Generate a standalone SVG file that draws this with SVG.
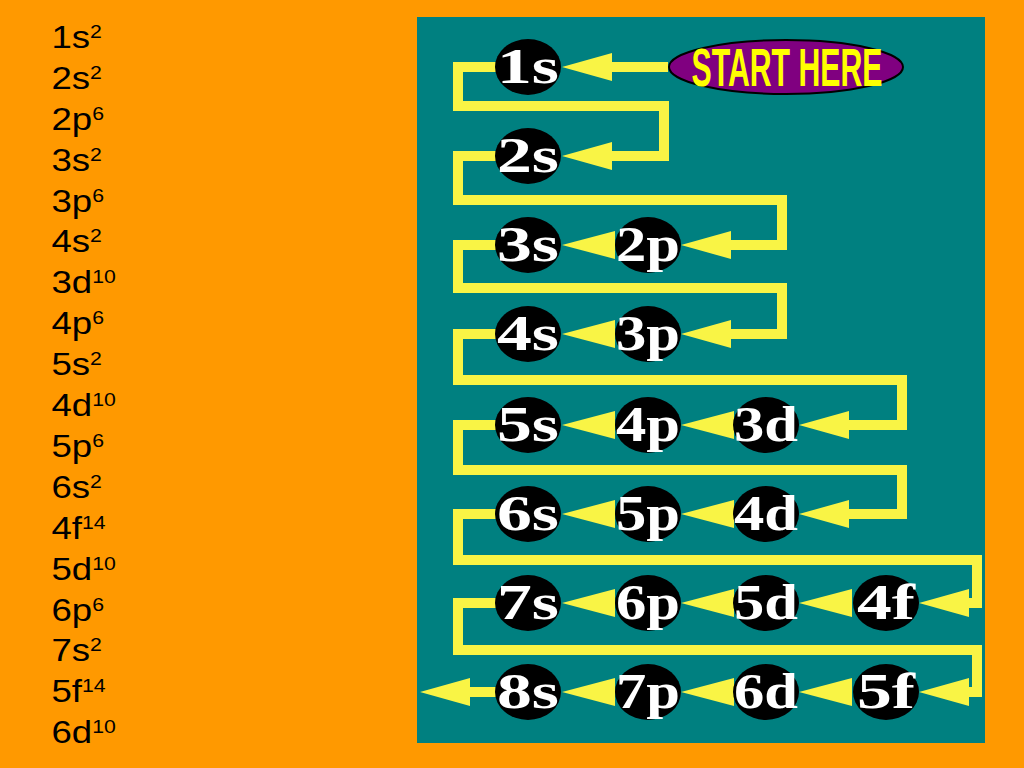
<svg xmlns="http://www.w3.org/2000/svg" xmlns:xlink="http://www.w3.org/1999/xlink" width="1024" height="768" viewBox="0 0 1024 768">
<style>
.cfg{font-family:"Liberation Sans",Arial,sans-serif;font-size:31px;fill:#000}
.sup{font-size:18px}
.wire{fill:none;stroke:#F9F445;stroke-width:10;stroke-linejoin:miter;stroke-linecap:butt}
.ah{fill:#F9F445}
.ball{fill:#000}
.lbl{font-family:"Liberation Serif","Times New Roman",serif;font-weight:bold;font-size:50px;fill:#fff;text-anchor:middle}
.start{fill:#800080;stroke:#000;stroke-width:2}
.startlbl{font-family:"Liberation Sans Narrow","Liberation Sans",Arial,sans-serif;font-weight:bold;font-size:54px;fill:#FFFF00;text-anchor:middle}
</style>
<defs>
<path id="ah" class="ah" d="M0,0 L50,-14 L50,14 Z"/>
<path id="ah2" class="ah" d="M0,0 L53,-14 L53,14 Z"/>
</defs>
<rect x="0" y="0" width="1024" height="768" fill="#FF9900"/>
<rect x="417" y="17" width="568" height="726" fill="#008080"/>

<g id="config-list" transform="translate(51.5 0) scale(1.18 1)">
<text class="cfg" x="0" y="48">1s<tspan class="sup" dy="-10">2</tspan></text>
<text class="cfg" x="0" y="89">2s<tspan class="sup" dy="-10">2</tspan></text>
<text class="cfg" x="0" y="130">2p<tspan class="sup" dy="-10">6</tspan></text>
<text class="cfg" x="0" y="171">3s<tspan class="sup" dy="-10">2</tspan></text>
<text class="cfg" x="0" y="212">3p<tspan class="sup" dy="-10">6</tspan></text>
<text class="cfg" x="0" y="252">4s<tspan class="sup" dy="-10">2</tspan></text>
<text class="cfg" x="0" y="293">3d<tspan class="sup" dy="-10">10</tspan></text>
<text class="cfg" x="0" y="334">4p<tspan class="sup" dy="-10">6</tspan></text>
<text class="cfg" x="0" y="375">5s<tspan class="sup" dy="-10">2</tspan></text>
<text class="cfg" x="0" y="416">4d<tspan class="sup" dy="-10">10</tspan></text>
<text class="cfg" x="0" y="457">5p<tspan class="sup" dy="-10">6</tspan></text>
<text class="cfg" x="0" y="498">6s<tspan class="sup" dy="-10">2</tspan></text>
<text class="cfg" x="0" y="539">4f<tspan class="sup" dy="-10">14</tspan></text>
<text class="cfg" x="0" y="580">5d<tspan class="sup" dy="-10">10</tspan></text>
<text class="cfg" x="0" y="621">6p<tspan class="sup" dy="-10">6</tspan></text>
<text class="cfg" x="0" y="661">7s<tspan class="sup" dy="-10">2</tspan></text>
<text class="cfg" x="0" y="702">5f<tspan class="sup" dy="-10">14</tspan></text>
<text class="cfg" x="0" y="743">6d<tspan class="sup" dy="-10">10</tspan></text>
</g>

<g id="connectors">
<path class="wire" d="M668,67 H608"/>
<path class="wire" d="M496,67 H458 V106 H664 V156 H608"/>
<path class="wire" d="M496,156 H458 V200 H782 V245 H727"/>
<path class="wire" d="M496,245 H458 V288 H782 V334 H727"/>
<path class="wire" d="M496,334 H458 V380 H902 V425 H845"/>
<path class="wire" d="M496,425 H458 V470 H902 V514 H845"/>
<path class="wire" d="M496,514 H458 V560 H977 V603 H964"/>
<path class="wire" d="M496,603 H458 V650 H977 V692 H964"/>
<path class="wire" d="M496,692 H464"/>
<use xlink:href="#ah" href="#ah" transform="translate(562 67)"/>
<use xlink:href="#ah" href="#ah" transform="translate(562 156)"/>
<use xlink:href="#ah" href="#ah" transform="translate(681 245)"/>
<use xlink:href="#ah2" href="#ah2" transform="translate(562 245)"/>
<use xlink:href="#ah" href="#ah" transform="translate(681 334)"/>
<use xlink:href="#ah2" href="#ah2" transform="translate(562 334)"/>
<use xlink:href="#ah" href="#ah" transform="translate(799 425)"/>
<use xlink:href="#ah2" href="#ah2" transform="translate(681 425)"/>
<use xlink:href="#ah2" href="#ah2" transform="translate(562 425)"/>
<use xlink:href="#ah" href="#ah" transform="translate(799 514)"/>
<use xlink:href="#ah2" href="#ah2" transform="translate(681 514)"/>
<use xlink:href="#ah2" href="#ah2" transform="translate(562 514)"/>
<use xlink:href="#ah" href="#ah" transform="translate(919 603)"/>
<use xlink:href="#ah2" href="#ah2" transform="translate(799 603)"/>
<use xlink:href="#ah2" href="#ah2" transform="translate(681 603)"/>
<use xlink:href="#ah2" href="#ah2" transform="translate(562 603)"/>
<use xlink:href="#ah" href="#ah" transform="translate(919 692)"/>
<use xlink:href="#ah2" href="#ah2" transform="translate(799 692)"/>
<use xlink:href="#ah2" href="#ah2" transform="translate(681 692)"/>
<use xlink:href="#ah2" href="#ah2" transform="translate(562 692)"/>
<use xlink:href="#ah" href="#ah" transform="translate(420 692)"/>
</g>

<g id="node-start">
<ellipse class="start" cx="786" cy="67" rx="117" ry="27"/>
<text class="startlbl" transform="translate(787 86) scale(0.56 1)" x="0" y="0">START HERE</text>
</g>

<g id="node-1s"><ellipse class="ball" cx="528" cy="67" rx="33" ry="28"/><text class="lbl" x="528" y="83" textLength="62" lengthAdjust="spacingAndGlyphs">1s</text></g>
<g id="node-2s"><ellipse class="ball" cx="528" cy="156" rx="33" ry="28"/><text class="lbl" x="528" y="172" textLength="62" lengthAdjust="spacingAndGlyphs">2s</text></g>
<g id="node-3s"><ellipse class="ball" cx="528" cy="245" rx="33" ry="28"/><text class="lbl" x="528" y="261" textLength="62" lengthAdjust="spacingAndGlyphs">3s</text></g>
<g id="node-2p"><ellipse class="ball" cx="648" cy="245" rx="33" ry="28"/><text class="lbl" x="648" y="261" textLength="64" lengthAdjust="spacingAndGlyphs">2p</text></g>
<g id="node-4s"><ellipse class="ball" cx="528" cy="334" rx="33" ry="28"/><text class="lbl" x="528" y="350" textLength="62" lengthAdjust="spacingAndGlyphs">4s</text></g>
<g id="node-3p"><ellipse class="ball" cx="648" cy="334" rx="33" ry="28"/><text class="lbl" x="648" y="350" textLength="64" lengthAdjust="spacingAndGlyphs">3p</text></g>
<g id="node-5s"><ellipse class="ball" cx="528" cy="425" rx="33" ry="28"/><text class="lbl" x="528" y="441" textLength="62" lengthAdjust="spacingAndGlyphs">5s</text></g>
<g id="node-4p"><ellipse class="ball" cx="648" cy="425" rx="33" ry="28"/><text class="lbl" x="648" y="441" textLength="64" lengthAdjust="spacingAndGlyphs">4p</text></g>
<g id="node-3d"><ellipse class="ball" cx="766" cy="425" rx="33" ry="28"/><text class="lbl" x="766" y="441" textLength="64" lengthAdjust="spacingAndGlyphs">3d</text></g>
<g id="node-6s"><ellipse class="ball" cx="528" cy="514" rx="33" ry="28"/><text class="lbl" x="528" y="530" textLength="62" lengthAdjust="spacingAndGlyphs">6s</text></g>
<g id="node-5p"><ellipse class="ball" cx="648" cy="514" rx="33" ry="28"/><text class="lbl" x="648" y="530" textLength="64" lengthAdjust="spacingAndGlyphs">5p</text></g>
<g id="node-4d"><ellipse class="ball" cx="766" cy="514" rx="33" ry="28"/><text class="lbl" x="766" y="530" textLength="64" lengthAdjust="spacingAndGlyphs">4d</text></g>
<g id="node-7s"><ellipse class="ball" cx="528" cy="603" rx="33" ry="28"/><text class="lbl" x="528" y="619" textLength="62" lengthAdjust="spacingAndGlyphs">7s</text></g>
<g id="node-6p"><ellipse class="ball" cx="648" cy="603" rx="33" ry="28"/><text class="lbl" x="648" y="619" textLength="64" lengthAdjust="spacingAndGlyphs">6p</text></g>
<g id="node-5d"><ellipse class="ball" cx="766" cy="603" rx="33" ry="28"/><text class="lbl" x="766" y="619" textLength="64" lengthAdjust="spacingAndGlyphs">5d</text></g>
<g id="node-4f"><ellipse class="ball" cx="886" cy="603" rx="33" ry="28"/><text class="lbl" x="886" y="619" textLength="58" lengthAdjust="spacingAndGlyphs">4f</text></g>
<g id="node-8s"><ellipse class="ball" cx="528" cy="692" rx="33" ry="28"/><text class="lbl" x="528" y="708" textLength="62" lengthAdjust="spacingAndGlyphs">8s</text></g>
<g id="node-7p"><ellipse class="ball" cx="648" cy="692" rx="33" ry="28"/><text class="lbl" x="648" y="708" textLength="64" lengthAdjust="spacingAndGlyphs">7p</text></g>
<g id="node-6d"><ellipse class="ball" cx="766" cy="692" rx="33" ry="28"/><text class="lbl" x="766" y="708" textLength="64" lengthAdjust="spacingAndGlyphs">6d</text></g>
<g id="node-5f"><ellipse class="ball" cx="886" cy="692" rx="33" ry="28"/><text class="lbl" x="886" y="708" textLength="58" lengthAdjust="spacingAndGlyphs">5f</text></g>
</svg>
